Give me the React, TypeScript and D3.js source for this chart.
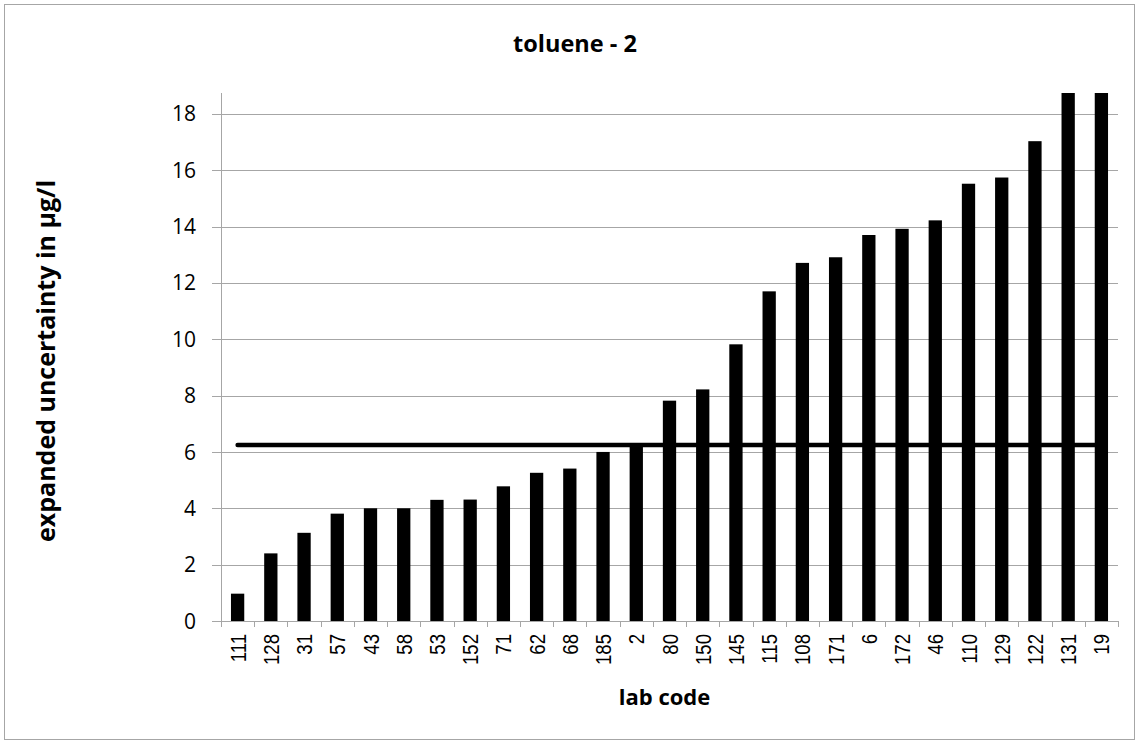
import React from "react";
import * as d3 from "d3";

const labCodes = ["111","128","31","57","43","58","53","152","71","62","68","185","2","80","150","145","115","108","171","6","172","46","110","129","122","131","19"];
const uncertainty = [0.97,2.4,3.13,3.81,4.0,4.0,4.3,4.31,4.78,5.26,5.41,6.0,6.2,7.82,8.22,9.82,11.7,12.71,12.91,13.7,13.92,14.22,15.52,15.74,17.03,20,22];
const referenceValue = 6.25;
const yTicks = [0,2,4,6,8,10,12,14,16,18];
const yMax = 18.74;

const W = 1139, H = 744;
const left = 221, right = 1118, top = 93, bottom = 621;

export default function App() {
  const x = d3.scaleBand<string>().domain(labCodes).range([left, right]).padding(0);
  const y = d3.scaleLinear().domain([0, yMax]).range([bottom, top]);
  const bw = x.bandwidth() * 0.4;
  const firstC = (x(labCodes[0]) as number) + x.bandwidth() / 2;
  const lastC = (x(labCodes[labCodes.length - 1]) as number) + x.bandwidth() / 2;
  const gridColor = "#a6a6a6";
  const tickPositions = d3.range(labCodes.length + 1).map(i => left + i * x.step());
  return (
    <svg width={W} height={H} style={{ position: "absolute", left: 0, top: 0 }}>
      <rect x={0} y={0} width={W} height={H} fill="#fff" />
      <rect x={4.5} y={4.5} width={1130} height={735} fill="none" stroke="#a6a6a6" strokeWidth={1} />
      <defs>
        <clipPath id="plot"><rect x={left} y={top} width={right - left} height={bottom - top} /></clipPath>
      </defs>
      {yTicks.map(t => (
        <g key={t}>
          <line x1={212} x2={right} y1={Math.round(y(t)) + 0.5} y2={Math.round(y(t)) + 0.5} stroke={gridColor} strokeWidth={1} />
          <text x={196} y={y(t)} dy="0.36em" textAnchor="end" fontFamily="Open Sans, sans-serif" fontSize={21} fill="#000">{t}</text>
        </g>
      ))}
      <line x1={left + 0.5} x2={left + 0.5} y1={top} y2={bottom} stroke={gridColor} strokeWidth={1} />
      {tickPositions.map((p, i) => (
        <line key={i} x1={Math.round(p) + 0.5} x2={Math.round(p) + 0.5} y1={bottom} y2={bottom + 6} stroke={gridColor} strokeWidth={1} />
      ))}
      <g clipPath="url(#plot)">
        {labCodes.map((c, i) => (
          <rect key={c} x={(x(c) as number) + x.bandwidth() / 2 - bw / 2} y={y(uncertainty[i])} width={bw} height={bottom - y(uncertainty[i])} fill="#000" />
        ))}
      </g>
      <line x1={firstC} x2={lastC} y1={y(referenceValue)} y2={y(referenceValue)} stroke="#000" strokeWidth={4.5} strokeLinecap="round" />
      {labCodes.map(c => {
        const cx = (x(c) as number) + x.bandwidth() / 2;
        return (
          <text key={c} transform={`translate(${cx},${634}) rotate(-90) scale(1,1.2)`} dy="0.36em" textAnchor="end" fontFamily="Liberation Sans, Arial, sans-serif" fontSize={18.6} fill="#000">{c}</text>
        );
      })}
      <text x={575} y={52} textAnchor="middle" fontFamily="Open Sans, sans-serif" fontWeight="bold" fontSize={23.5} fill="#000">toluene - 2</text>
      <text x={664.5} y={705} textAnchor="middle" fontFamily="Open Sans, sans-serif" fontWeight="bold" fontSize={22} fill="#000">lab code</text>
      <text transform={`translate(${55},${361}) rotate(-90)`} textAnchor="middle" fontFamily="Open Sans, sans-serif" fontWeight="bold" fontSize={25} fill="#000">expanded uncertainty in µg/l</text>
    </svg>
  );
}
